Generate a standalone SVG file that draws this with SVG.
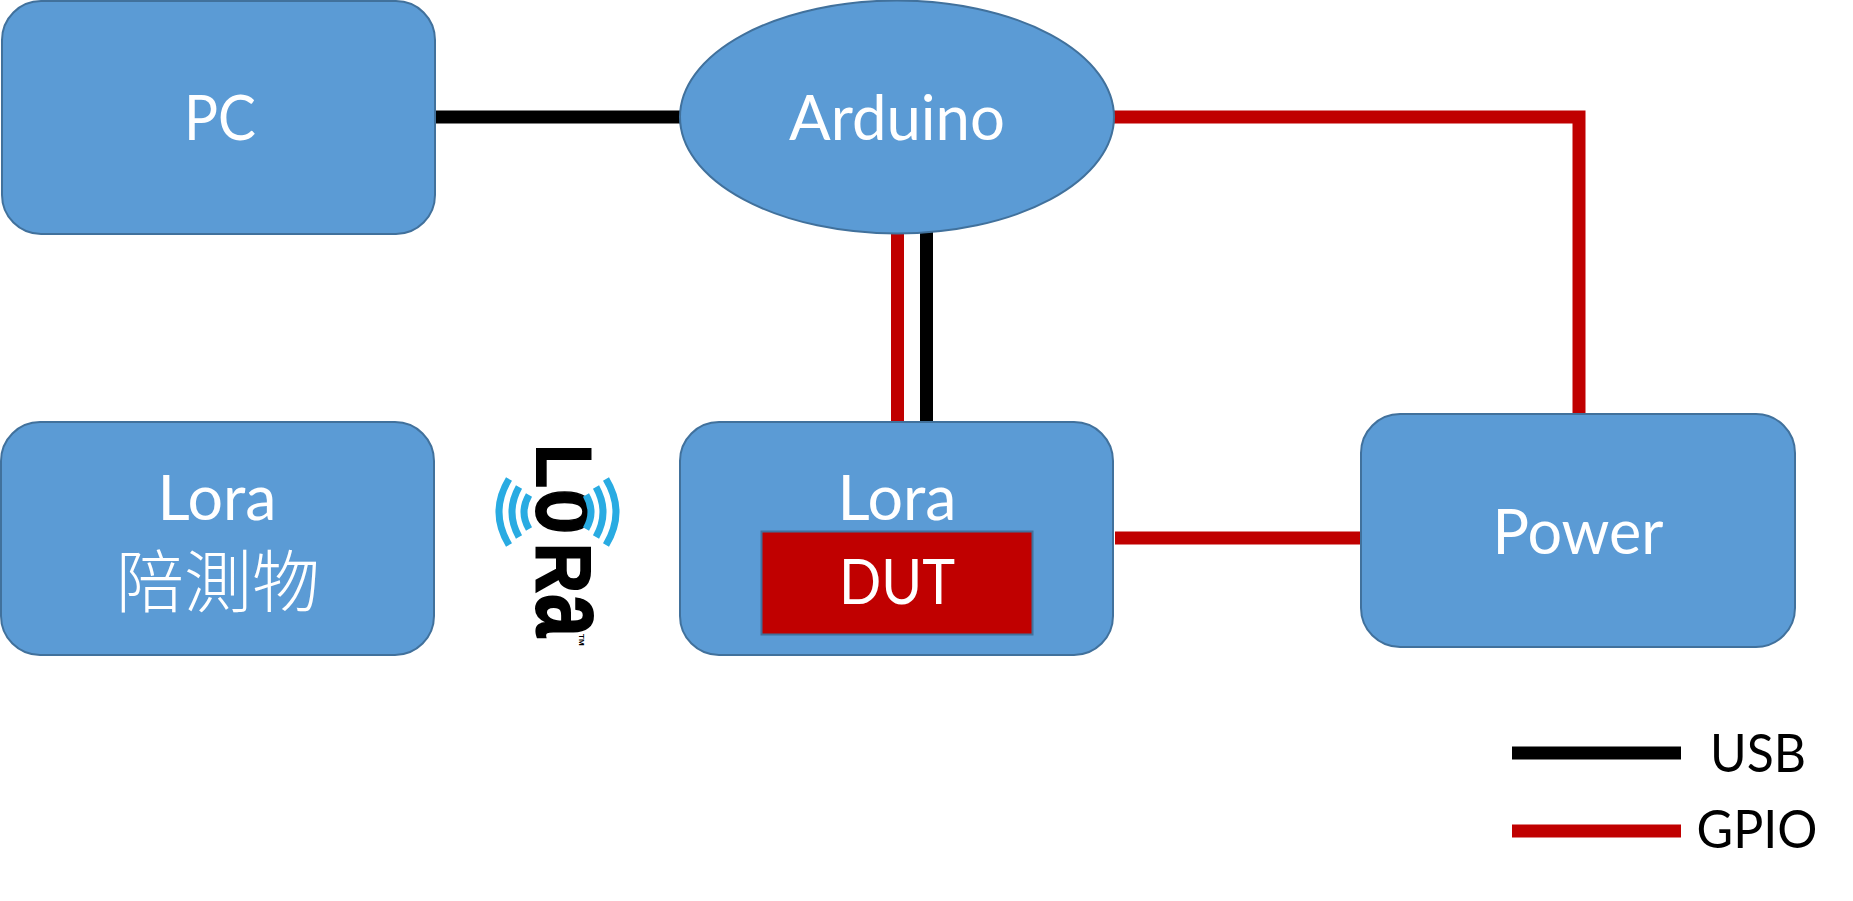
<svg xmlns="http://www.w3.org/2000/svg" width="1853" height="901" viewBox="0 0 1853 901">
<style>
.box{fill:#5b9bd5;stroke:#41719c;stroke-width:2}
.t{font-family:"Lato","Open Sans","Noto Sans CJK TC",sans-serif;font-size:61px;fill:#fff;text-anchor:middle}
.k{font-family:"Lato","Open Sans",sans-serif;font-size:53px;fill:#000;text-anchor:middle}
.w{fill:none;stroke-width:13}
.bk{stroke:#000}.rd{stroke:#c00000}
.arc{fill:none;stroke:#29abe2;stroke-width:7}
</style>
<g id="connectors">
<path class="w bk" d="M435 117H680"/>
<path class="w rd" d="M1114 117H1579V413"/>
<path class="w rd" d="M897.500 232V421"/>
<path class="w bk" d="M926.500 232V421"/>
<path class="w rd" d="M1115 538H1361"/>
</g>
<g id="pc"><rect class="box" x="2" y="1" width="433" height="233" rx="39"/><text class="t" x="220" y="140" textLength="72" lengthAdjust="spacingAndGlyphs">PC</text></g>
<g id="arduino"><ellipse class="box" cx="897" cy="117" rx="217" ry="116.500"/><text class="t" x="897" y="140" textLength="216" lengthAdjust="spacingAndGlyphs">Arduino</text></g>
<g id="lora-companion"><rect class="box" x="1" y="422" width="433" height="233" rx="39"/><text class="t" x="217" y="520" textLength="119" lengthAdjust="spacingAndGlyphs">Lora</text><text class="t" x="218" y="607" style="font-family:'Noto Sans CJK TC',sans-serif;font-size:68px;font-weight:300">陪測物</text></g>
<g id="lora-logo">
<text transform="translate(537 447) rotate(90)" style="font-family:'Liberation Sans',sans-serif;font-weight:700;fill:#000;stroke:#000;stroke-width:2"><tspan x="-3" y="0" font-size="78" textLength="44" lengthAdjust="spacingAndGlyphs">L</tspan><tspan x="42" y="0" font-size="104" textLength="45" lengthAdjust="spacingAndGlyphs">o</tspan><tspan x="96" y="0" font-size="78" textLength="50" lengthAdjust="spacingAndGlyphs">R</tspan><tspan x="147" y="0" font-size="104" textLength="43" lengthAdjust="spacingAndGlyphs">a</tspan></text>
<text x="579" y="634" transform="rotate(90 579 634)" style="font-family:'Liberation Sans',sans-serif;font-weight:700;font-size:8px;fill:#000">TM</text>
<path class="arc" d="M509 479Q489 512 509 545M519 487Q505 512 519 537M529 495Q519 512 529 529M606 479Q626 512 606 545M596 487Q610 512 596 537M586 495Q596 512 586 529"/>
</g>
<g id="lora-dut"><rect class="box" x="680" y="422" width="433" height="233" rx="39"/><text class="t" x="897" y="520" textLength="119" lengthAdjust="spacingAndGlyphs">Lora</text></g>
<g id="dut"><rect x="761.500" y="531.500" width="271" height="103" fill="#c00000" stroke="#41719c" stroke-width="2"/><text class="t" x="897" y="604" textLength="116" lengthAdjust="spacingAndGlyphs">DUT</text></g>
<g id="power"><rect class="box" x="1361" y="414" width="434" height="233" rx="39"/><text class="t" x="1578" y="554" textLength="171" lengthAdjust="spacingAndGlyphs">Power</text></g>
<g id="legend">
<path class="w bk" d="M1512 753H1681"/>
<path class="w rd" d="M1512 831H1681"/>
<text class="k" x="1758" y="772" textLength="96" lengthAdjust="spacingAndGlyphs">USB</text>
<text class="k" x="1757" y="848" textLength="121" lengthAdjust="spacingAndGlyphs">GPIO</text>
</g>
</svg>
